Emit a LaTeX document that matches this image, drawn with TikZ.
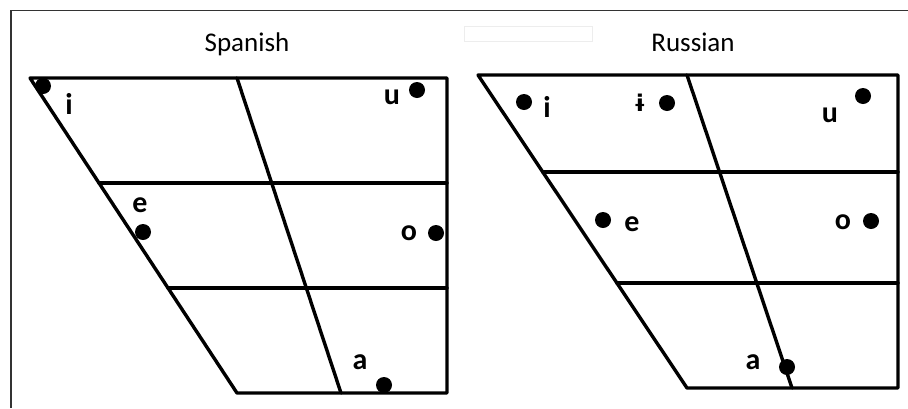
\documentclass[tikz,border=0pt]{standalone}
\usepackage{fontspec}
\setmainfont{Carlito}
\newfontfamily\ipafont{DejaVu Sans}
\usetikzlibrary{calc}

\begin{document}
\begin{tikzpicture}[
  x=1pt, y=-1pt,
  chart/.style={line width=3.4pt, line cap=round, line join=round},
  frame/.style={line width=1.8pt, black!80},
  ghost/.style={line width=1pt, black!7},
  dot/.style={circle, fill=black, inner sep=0pt, minimum size=16pt},
  vowel/.style={inner sep=0pt, font=\fontsize{30}{30}\selectfont\bfseries},
  title/.style={inner sep=0pt, anchor=base, font=\fontsize{27}{27}\selectfont}
]
  \useasboundingbox (0,0) rectangle (908,408);

  % Outer frame (left and top only)
  \coordinate (fbl) at (11,408);
  \coordinate (ftl) at (11,10.5);
  \coordinate (ftr) at (908,10.5);
  \draw[frame] (fbl) -- (ftl) -- (ftr);
  \draw[ghost] (464,26) rectangle (592,41);

  % Titles
  \node[title] (estitle) at (247,51) {Spanish};
  \node[title] (rutitle) at (693,51) {Russian};

  % Spanish chart
  \coordinate (es-tl) at (30,78);
  \coordinate (es-tr) at (447,78);
  \coordinate (es-br) at (447,393);
  \coordinate (es-bl) at (237,393);
  \coordinate (es-mt) at (237,78);
  \coordinate (es-mb) at (341,393);
  \coordinate (es-r1) at ($(es-tl)!1/3!(es-bl)$);
  \coordinate (es-r2) at ($(es-tl)!2/3!(es-bl)$);
  \draw[chart] (es-tl) -- (es-tr) -- (es-br) -- (es-bl) -- cycle;
  \draw[chart] (es-mt) -- (es-mb);
  \draw[chart] (es-r1) -- (es-r1 -| es-tr);
  \draw[chart] (es-r2) -- (es-r2 -| es-tr);

  \node[dot] (es-idot) at (43,86) {};
  \node[vowel] (es-i) at (69,104) {i};
  \node[dot] (es-udot) at (417,90) {};
  \node[vowel] (es-u) at (392,97) {u};
  \node[dot] (es-edot) at (143,232) {};
  \node[vowel] (es-e) at (140,205) {e};
  \node[dot] (es-odot) at (436,233) {};
  \node[vowel] (es-o) at (409,233) {o};
  \node[dot] (es-adot) at (384,385) {};
  \node[vowel] (es-a) at (360,362) {a};

  % Russian chart
  \coordinate (ru-tl) at (478,75);
  \coordinate (ru-tr) at (898,75);
  \coordinate (ru-br) at (898,388);
  \coordinate (ru-bl) at (687,388);
  \coordinate (ru-mt) at (687,75);
  \coordinate (ru-mb) at (792,388);
  \coordinate (ru-r1) at (intersection of ru-tl--ru-bl and 0,172--1,172);
  \coordinate (ru-r2) at (intersection of ru-tl--ru-bl and 0,283--1,283);
  \draw[chart] (ru-tl) -- (ru-tr) -- (ru-br) -- (ru-bl) -- cycle;
  \draw[chart] (ru-mt) -- (ru-mb);
  \draw[chart] (ru-r1) -- (ru-r1 -| ru-tr);
  \draw[chart] (ru-r2) -- (ru-r2 -| ru-tr);

  \node[dot] (ru-idot) at (524,102) {};
  \node[vowel] (ru-i) at (547,107) {i};
  \node[dot] (ru-ybdot) at (667,103) {};
  \node[vowel, font=\ipafont\fontsize{23}{23}\selectfont\bfseries] (ru-yb) at (640,103) {ɨ};
  \node[dot] (ru-udot) at (863,96) {};
  \node[vowel] (ru-u) at (830,115) {u};
  \node[dot] (ru-edot) at (603,220) {};
  \node[vowel] (ru-e) at (632,224) {e};
  \node[dot] (ru-odot) at (871,221) {};
  \node[vowel] (ru-o) at (843,222) {o};
  \node[dot] (ru-adot) at (787,367) {};
  \node[vowel] (ru-a) at (753,362) {a};
\end{tikzpicture}
\end{document}
